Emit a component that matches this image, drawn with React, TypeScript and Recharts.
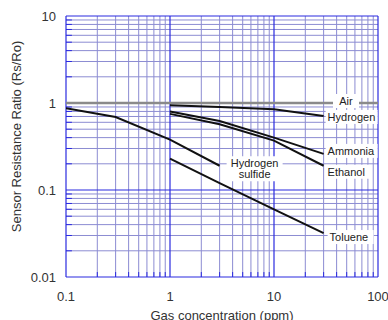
import React from 'react';
import { LineChart, Line, XAxis, YAxis, ReferenceLine } from 'recharts';

const FONT = '"Liberation Sans", Arial, Helvetica, sans-serif';

// axis ticks
const xMajorTicks = [0.1, 1, 10, 100];
const yMajorTicks = [0.01, 0.1, 1, 10];
const xMinorTicks = [0.2, 0.3, 0.4, 0.5, 0.6, 0.7, 0.8, 0.9, 2, 3, 4, 5, 6, 7, 8, 9, 20, 30, 40, 50, 60, 70, 80, 90];
const yMinorTicks = [0.02, 0.03, 0.04, 0.05, 0.06, 0.07, 0.08, 0.09, 0.2, 0.3, 0.4, 0.5, 0.6, 0.7, 0.8, 0.9, 2, 3, 4, 5, 6, 7, 8, 9];

// series (gas concentration ppm -> Rs/Ro)
const airX = [0.1, 100];
const airY = [1, 1];
const hydrogenX = [1, 3, 10, 30];
const hydrogenY = [0.94, 0.9, 0.85, 0.71];
const ammoniaX = [1, 3, 10, 30];
const ammoniaY = [0.8, 0.62, 0.4, 0.26];
const ethanolX = [1, 3, 10, 30];
const ethanolY = [0.75, 0.57, 0.37, 0.19];
const h2sX = [0.1, 0.3, 1, 3];
const h2sY = [0.87, 0.69, 0.38, 0.19];
const tolueneX = [1, 3, 10, 30];
const tolueneY = [0.23, 0.12, 0.06, 0.032];

const zip = (xs: number[], ys: number[]) => xs.map((x, i) => ({ x, y: ys[i] }));

const airData = zip(airX, airY);
const hydrogenData = zip(hydrogenX, hydrogenY);
const ammoniaData = zip(ammoniaX, ammoniaY);
const ethanolData = zip(ethanolX, ethanolY);
const h2sData = zip(h2sX, h2sY);
const tolueneData = zip(tolueneX, tolueneY);

const MAJOR = '#2a2ae0';
const MINOR = '#8c8cd2';
const EDGE_TICK = 1.14;

function makeEndLabel(
  lines: string[],
  count: number,
  dx: number,
  dy: number,
  anchor: 'start' | 'middle',
  boxW: number
) {
  return (props: any) => {
    const { x, y, index } = props;
    if (index !== count - 1 || x == null || y == null) return null;
    const lh = 11;
    const tx = x + dx;
    const cy = y + dy;
    const h = lines.length * lh + 3;
    const rx = anchor === 'middle' ? tx - boxW / 2 : tx - 2;
    const firstBase = cy - ((lines.length - 1) * lh) / 2 + 4;
    return (
      <g key={`lbl-${lines[0]}`}>
        <rect x={rx} y={cy - h / 2} width={boxW} height={h} fill="#ffffff" />
        <text x={tx} y={firstBase} textAnchor={anchor} fontSize={11} fontFamily={FONT} fill="#222">
          {lines.map((l, i) => (
            <tspan key={i} x={tx} dy={i === 0 ? 0 : lh}>
              {l}
            </tspan>
          ))}
        </text>
      </g>
    );
  };
}

const YTitle = (p: any) => {
  const vb = p.viewBox || { x: 0, y: 16, width: 66, height: 261 };
  const cx = vb.x + 16;
  const cy = vb.y + vb.height / 2 - 10;
  return (
    <text
      transform={`translate(${cx},${cy}) rotate(-90)`}
      textAnchor="middle"
      dominantBaseline="central"
      fontSize={13}
      fontFamily={FONT}
      fill="#333"
    >
      Sensor Resistance Ratio (Rs/Ro)
    </text>
  );
};

const XTitle = (p: any) => {
  const vb = p.viewBox || { x: 66, y: 277, width: 312, height: 43 };
  return (
    <text x={vb.x + vb.width / 2} y={vb.y + vb.height} textAnchor="middle" fontSize={13} fontFamily={FONT} fill="#333">
      Gas concentration (ppm)
    </text>
  );
};

export default function App() {
  return (
    <div style={{ position: 'absolute', left: 0, top: 0, width: 388, height: 320, background: '#fff' }}>
      <LineChart width={388} height={320} margin={{ top: 16, right: 10, bottom: 0, left: 0 }}>
        <XAxis
          dataKey="x"
          type="number"
          scale="log"
          domain={[0.1, 100]}
          ticks={xMajorTicks}
          allowDataOverflow
          axisLine={false}
          tickLine={false}
          tickSize={0}
          tickMargin={15}
          height={43}
          tick={{ fontSize: 13, fontFamily: FONT, fill: '#333' }}
          tickFormatter={(v: number) => String(v)}
          label={{ content: XTitle }}
        />
        <YAxis
          type="number"
          scale="log"
          domain={[0.01, 10]}
          ticks={yMajorTicks}
          allowDataOverflow
          axisLine={false}
          tickLine={false}
          tickSize={0}
          tickMargin={10}
          width={66}
          tick={{ fontSize: 13, fontFamily: FONT, fill: '#333' }}
          tickFormatter={(v: number) => String(v)}
          label={{ content: YTitle }}
        />
        {xMinorTicks.map((v) => (
          <ReferenceLine key={`xm${v}`} x={v} stroke={MINOR} strokeWidth={1} />
        ))}
        {yMinorTicks.map((v) => (
          <ReferenceLine key={`ym${v}`} y={v} stroke={MINOR} strokeWidth={1} />
        ))}
        {xMinorTicks.map((v) => (
          <ReferenceLine
            key={`xe${v}`}
            segment={[
              { x: v, y: yMajorTicks[0] },
              { x: v, y: yMajorTicks[0] * EDGE_TICK },
            ]}
            stroke={MAJOR}
            strokeWidth={1}
          />
        ))}
        {yMinorTicks.map((v) => (
          <ReferenceLine
            key={`ye${v}`}
            segment={[
              { x: xMajorTicks[0], y: v },
              { x: xMajorTicks[0] * EDGE_TICK, y: v },
            ]}
            stroke={MAJOR}
            strokeWidth={1}
          />
        ))}
        {xMajorTicks.map((v) => (
          <ReferenceLine key={`xM${v}`} x={v} stroke={MAJOR} strokeWidth={1.2} />
        ))}
        {yMajorTicks.map((v) => (
          <ReferenceLine key={`yM${v}`} y={v} stroke={MAJOR} strokeWidth={1.2} />
        ))}
        <Line
          data={airData}
          dataKey="y"
          stroke="#8a8a8a"
          strokeWidth={2.5}
          dot={false}
          isAnimationActive={false}
          label={makeEndLabel(['Air'], airData.length, -32, -2, 'middle', 26)}
        />
        <Line
          data={hydrogenData}
          dataKey="y"
          stroke="#111"
          strokeWidth={2}
          dot={false}
          isAnimationActive={false}
          label={makeEndLabel(['Hydrogen'], hydrogenData.length, 4, 1, 'start', 52)}
        />
        <Line
          data={ammoniaData}
          dataKey="y"
          stroke="#111"
          strokeWidth={2}
          dot={false}
          isAnimationActive={false}
          label={makeEndLabel(['Ammonia'], ammoniaData.length, 4, -3, 'start', 52)}
        />
        <Line
          data={ethanolData}
          dataKey="y"
          stroke="#111"
          strokeWidth={2}
          dot={false}
          isAnimationActive={false}
          label={makeEndLabel(['Ethanol'], ethanolData.length, 4, 6, 'start', 44)}
        />
        <Line
          data={h2sData}
          dataKey="y"
          stroke="#111"
          strokeWidth={2}
          dot={false}
          isAnimationActive={false}
          label={makeEndLabel(['Hydrogen', 'sulfide'], h2sData.length, 35, 3, 'middle', 56)}
        />
        <Line
          data={tolueneData}
          dataKey="y"
          stroke="#111"
          strokeWidth={2}
          dot={false}
          isAnimationActive={false}
          label={makeEndLabel(['Toluene'], tolueneData.length, 6, 4, 'start', 46)}
        />
      </LineChart>
    </div>
  );
}
